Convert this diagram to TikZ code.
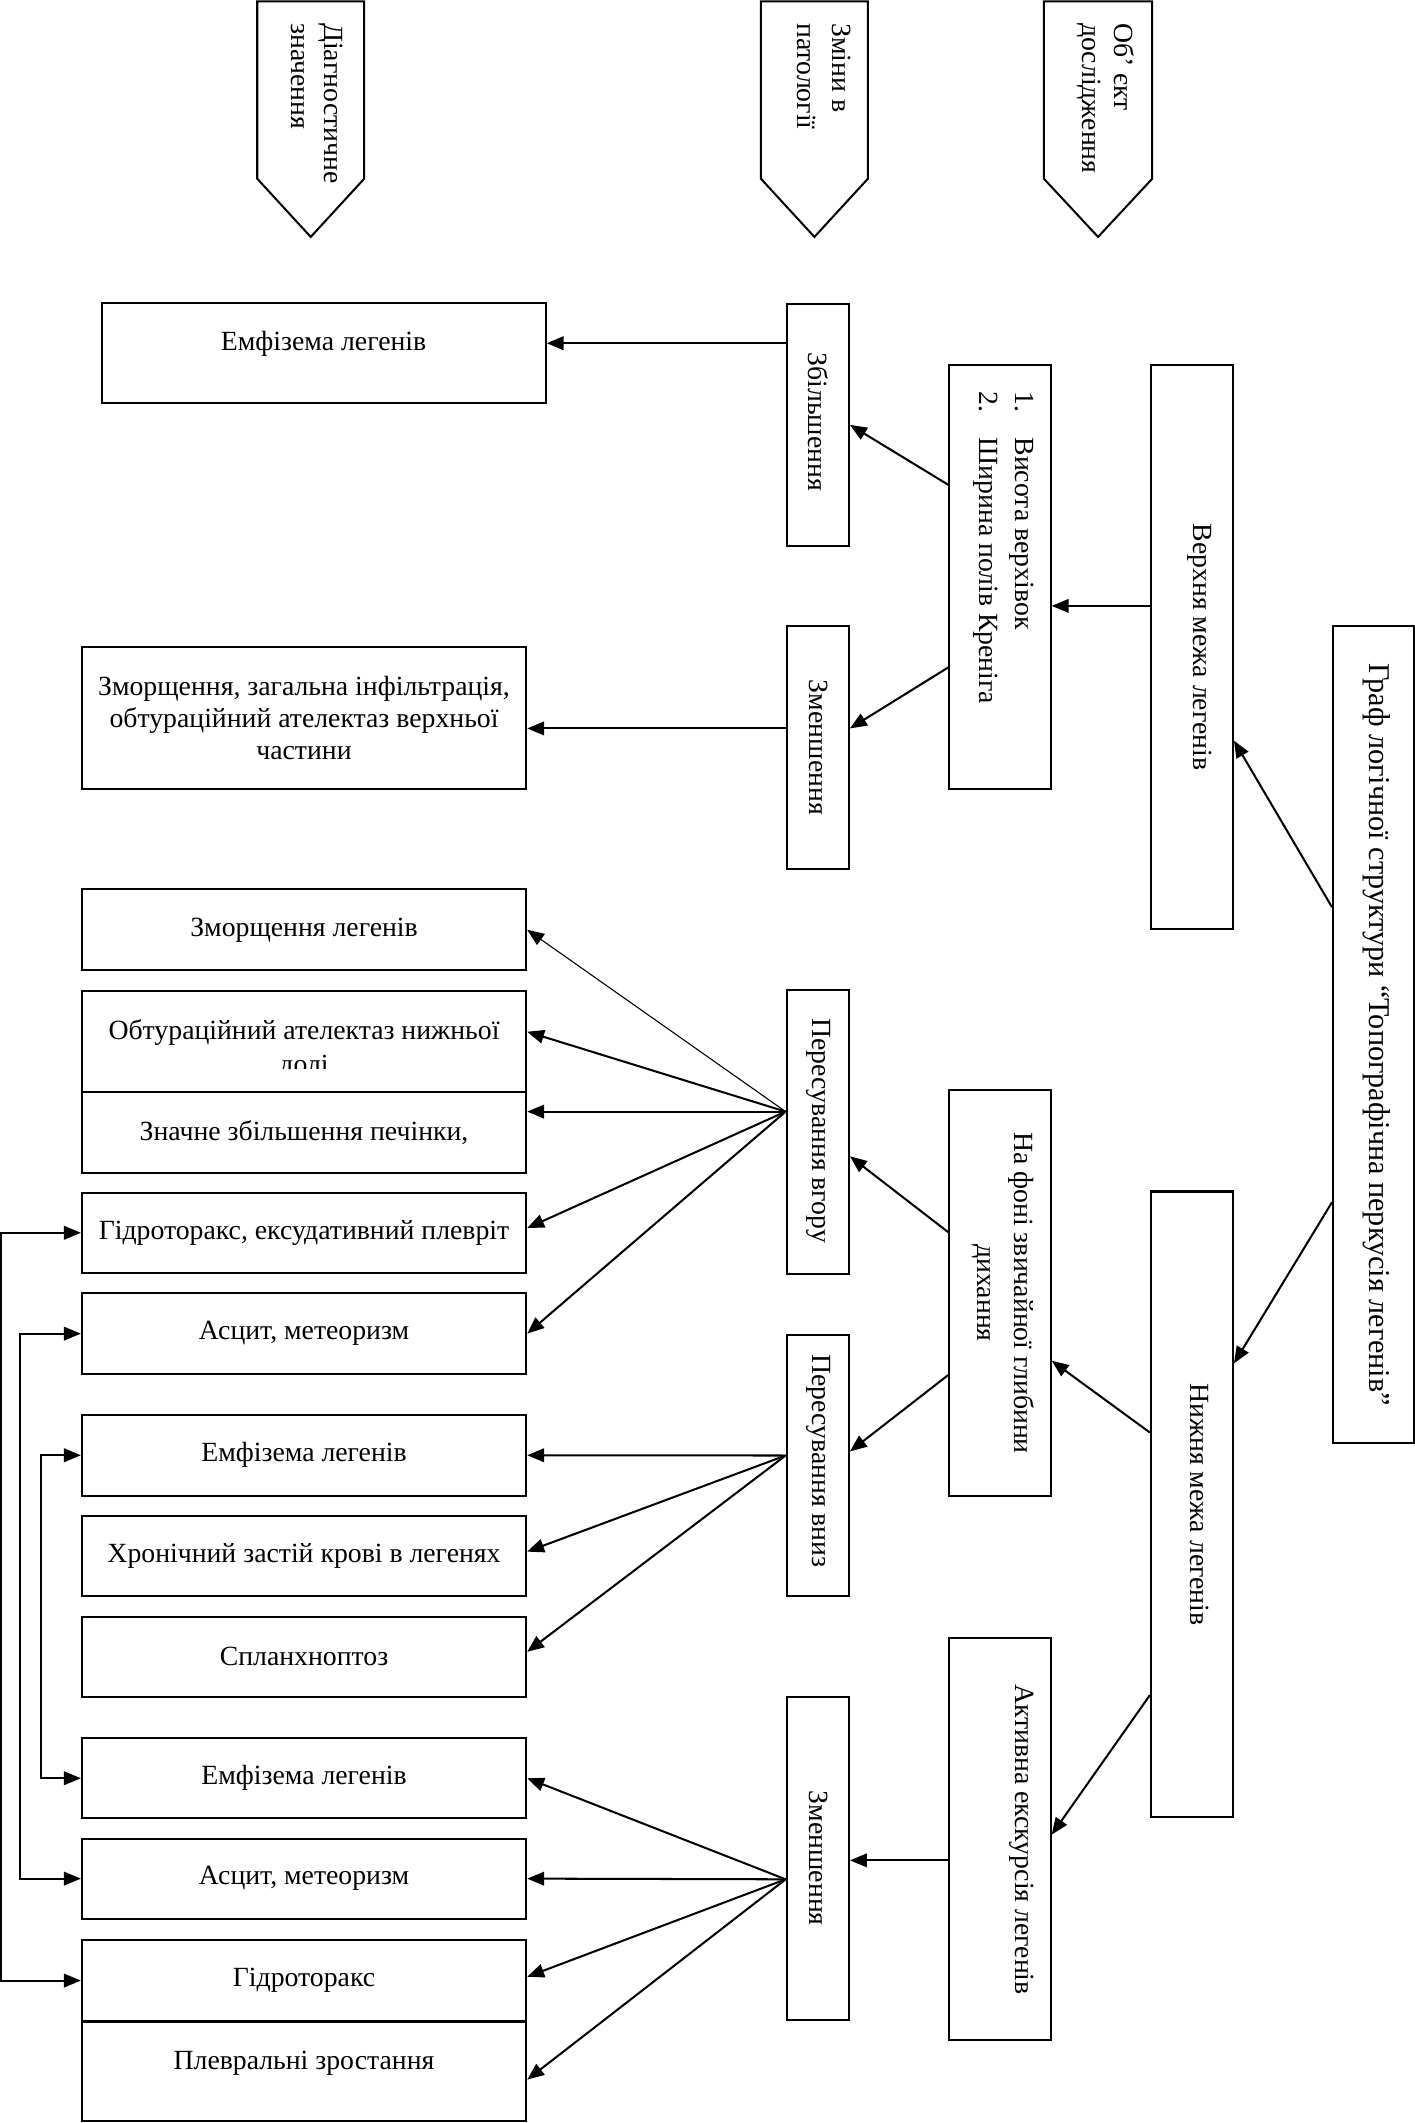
\documentclass[tikz,border=0pt]{standalone}
\usepackage{fontspec}
\setmainfont{Liberation Serif}
\usetikzlibrary{arrows.meta}
\newcommand\fsz{\fontsize{20.5}{24}\selectfont}
\newcommand\fst{\fontsize{22.3}{26}\selectfont}
\begin{document}
\begin{tikzpicture}[x=1pt,y=-1pt,
  box/.style={draw, line width=1.5pt, inner sep=0pt},
  txt/.style={font=\fsz, align=center, inner sep=0pt},
  vtxt/.style={txt, rotate=-90},
  lbox/.style={box, txt, minimum width=328.1pt},
  arr/.style={-{Triangle[length=12.5pt,width=10pt]}, line width=1.5pt},
  thinarr/.style={-{Triangle[length=12.5pt,width=10pt]}, line width=0.8pt},
  darr/.style={{Triangle[length=12.5pt,width=10pt]}-{Triangle[length=12.5pt,width=10pt]}, line width=1.5pt},
  line join=miter]
\useasboundingbox (0,0) rectangle (1045,1568);

% header pentagons
\draw[line width=1.5pt] (190,1) -- (269,1) -- (269,132) -- (229.5,175) -- (190,132) -- cycle;
\draw[line width=1.5pt] (562,1) -- (641,1) -- (641,132) -- (601.5,175) -- (562,132) -- cycle;
\draw[line width=1.5pt] (771,1) -- (851,1) -- (851,132) -- (811,175) -- (771,132) -- cycle;
\node[vtxt, align=left, anchor=west] (h1) at (234.25,17) {Діагностичне\\значення};
\node[vtxt, align=left, anchor=west, font=\fontsize{20.5}{26}\selectfont] (h2) at (608.5,17) {Зміни в\\патології};
\node[vtxt, align=left, anchor=west] (h3) at (816.5,17) {Об’ єкт\\дослідження};

% right column
\node[box, minimum width=59.5pt, minimum height=604pt] (title) at (1014.25,764) {};
\node[vtxt, font=\fst] (titlet) at (1017,764) {Граф логічної структури “Топографічна перкусія легенів”};
\node[box, minimum width=60.6pt, minimum height=416.4pt] (verh) at (880.3,477.8) {};
\node[vtxt] (verht) at (886,477.8) {Верхня межа легенів};
\node[box, minimum width=60.6pt, minimum height=462pt] (nyzh) at (880.3,1111) {};
\node[vtxt] (nyzht) at (886,1111) {Нижня межа легенів};

% second column
\node[box, minimum width=75pt, minimum height=313.1pt] (list) at (738.5,426.15) {};
\node[vtxt, align=left, anchor=west, font=\fontsize{20.5}{26.5}\selectfont] (listt) at (741.25,289)
  {\makebox[34pt][l]{1.}Висота верхівок\\\makebox[34pt][l]{2.}Ширина полів Креніга};
\node[box, minimum width=75pt, minimum height=300pt] (nafoni) at (738.5,955) {};
\node[vtxt, font=\fontsize{20.5}{27}\selectfont] (nafonit) at (741,955) {На фоні звичайної глибини\\дихання};
\node[box, minimum width=75pt, minimum height=297pt] (akt) at (738.5,1358.5) {};
\node[vtxt] (aktt) at (754.5,1358.5) {Активна екскурсія легенів};

% third column
\node[box, minimum width=46pt, minimum height=178.4pt] (zbil) at (604,313.8) {};
\node[vtxt] (zbilt) at (604.5,311.5) {Збільшення};
\node[box, minimum width=46pt, minimum height=180pt] (zm1) at (604,552) {};
\node[vtxt] (zm1t) at (604.5,552) {Зменшення};
\node[box, minimum width=46pt, minimum height=210pt] (vgoru) at (604,836) {};
\node[vtxt] (vgorut) at (604.5,835) {Пересування вгору};
\node[box, minimum width=46pt, minimum height=193pt] (vnyz) at (604,1082.5) {};
\node[vtxt] (vnyzt) at (604.5,1079) {Пересування вниз};
\node[box, minimum width=46pt, minimum height=239pt] (zm2) at (604,1372.5) {};
\node[vtxt] (zm2t) at (604.5,1372.5) {Зменшення};

% left column
\node[box, minimum width=328pt, minimum height=74pt] (emf0) at (239,261) {};
\node[txt] (emf0t) at (239,254) {Емфізема легенів};
\node[lbox, minimum height=105pt, font=\fontsize{20.5}{23.5}\selectfont] (zz) at (224.55,530.5)
  {Зморщення, загальна інфільтрація,\\обтураційний ателектаз верхньої\\частини};
\node[lbox, minimum height=59.8pt] (zmor) at (224.55,686.7) {Зморщення легенів};
\node[box, minimum width=328.1pt, minimum height=74.5pt] (obt) at (224.55,769.25) {};
\begin{scope}
  \clip (61,733) rectangle (388,789.5);
  \node[txt, anchor=base] (obtt1) at (224.55,767.5) {Обтураційний ателектаз нижньої};
  \node[txt, anchor=base] (obtt2) at (224.55,792.5) {долі};
\end{scope}
\node[lbox, minimum height=59.5pt] (znach) at (224.55,836.25) {Значне збільшення печінки,};
\node[lbox, minimum height=59pt] (hydroeks) at (224.55,910.5) {Гідроторакс, ексудативний плевріт};
\node[lbox, minimum height=60pt] (ascyt1) at (224.55,985) {Асцит, метеоризм};
\node[lbox, minimum height=59.6pt] (emf1) at (224.55,1074.8) {Емфізема легенів};
\node[lbox, minimum height=59.6pt] (hron) at (224.55,1149.2) {Хронічний застій крові в легенях};
\node[lbox, minimum height=59.4pt] (splanh) at (224.55,1223.7) {Спланхноптоз};
\node[lbox, minimum height=59.3pt] (emf2) at (224.55,1313.35) {Емфізема легенів};
\node[lbox, minimum height=59pt] (ascyt2) at (224.55,1387.5) {Асцит, метеоризм};
\node[lbox, minimum height=59.6pt] (hydro) at (224.55,1462.8) {Гідроторакс};
\node[box, minimum width=328.1pt, minimum height=73.4pt] (plevr) at (224.55,1529.8) {};
\node[txt] (plevrt) at (224.55,1523.6) {Плевральні зростання};

% connectors, right part
\draw[arr] ([yshift=94pt]title.west) -- ([yshift=-69.2pt]verh.east);
\draw[arr] ([yshift=-124pt]title.west) -- ([yshift=104pt]nyzh.east);
\draw[arr] ([yshift=30.3pt]verh.west) -- ([yshift=-21.35pt]list.east);
\draw[arr] ([yshift=68.15pt]list.west) -- (zbil.east);
\draw[arr] ([yshift=-66.85pt]list.west) -- ([yshift=14pt]zm1.east);
\draw[arr] ([yshift=60.3pt]zbil.west) -- ([yshift=7.5pt]emf0.east);
\draw[arr] ([yshift=14pt]zm1.west) -- ([yshift=-7.5pt]zz.east);
\draw[arr] ([yshift=53pt]nyzh.west) -- ([yshift=-50pt]nafoni.east);
\draw[arr] ([yshift=-141pt]nyzh.west) -- ([yshift=3.5pt]akt.east);
\draw[arr] ([yshift=45pt]nafoni.west) -- ([yshift=-18pt]vgoru.east);
\draw[arr] ([yshift=-60.6pt]nafoni.west) -- ([yshift=10.5pt]vnyz.east);
\draw[arr] ([yshift=-15.5pt]akt.west) -- ([yshift=-1.5pt]zm2.east);

% fans
\coordinate (vgf) at ([yshift=15pt]vgoru.west);
\coordinate (vnf) at ([yshift=7.5pt]vnyz.west);
\coordinate (zmf) at ([yshift=-15.5pt]zm2.west);
\draw[thinarr] (vgf) -- (zmor.east);
\draw[arr] (vgf) -- ([yshift=7.25pt]obt.east);
\draw[arr] (vgf) -- ([yshift=15.25pt]znach.east);
\draw[arr] (vgf) -- ([yshift=3.5pt]hydroeks.east);
\draw[arr] (vgf) -- (ascyt1.east);
\draw[arr] (vnf) -- (emf1.east);
\draw[arr] (vnf) -- ([yshift=3.2pt]hron.east);
\draw[arr] (vnf) -- ([yshift=3.7pt]splanh.east);
\draw[arr] (zmf) -- (emf2.east);
\draw[arr] (zmf) -- (ascyt2.east);
\draw[arr] (zmf) -- ([yshift=2.8pt]hydro.east);
\draw[arr] (zmf) -- ([yshift=-6.2pt]plevr.east);

% left links
\draw[darr] (hydroeks.west) -- ++(-59,0) |- (hydro.west);
\draw[darr] (ascyt1.west) -- ++(-45,0) |- (ascyt2.west);
\draw[darr] (emf1.west) -- ++(-29.5,0) |- (emf2.west);
\end{tikzpicture}
\end{document}
